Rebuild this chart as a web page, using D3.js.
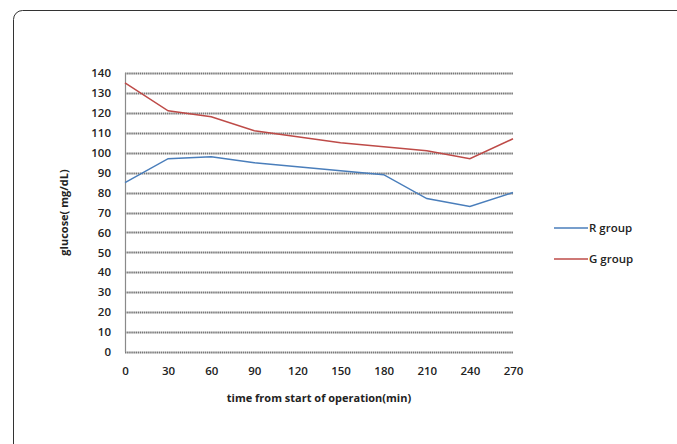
<!DOCTYPE html>
<html>
<head>
<meta charset="utf-8">
<script src="https://cdn.jsdelivr.net/npm/d3@7"></script>
<style>
  body { margin: 0; background: #fff; }
  svg { display: block; font-family: "Open Sans", "DejaVu Sans", sans-serif; }
</style>
</head>
<body>
<div id="chart"></div>
<script>
(function() {
  'use strict';
  var WIDTH = 677;
  var HEIGHT = 444;

  var times = [0, 30, 60, 90, 120, 150, 180, 210, 240, 270];
  var rGroup = [85, 97, 98, 95, 93, 91, 89, 77, 73, 80];
  var gGroup = [135, 121, 118, 111, 108, 105, 103, 101, 97, 107];
  var yTicks = [0, 10, 20, 30, 40, 50, 60, 70, 80, 90, 100, 110, 120, 130, 140];
  var seriesNames = ['R group', 'G group'];
  var seriesColors = ['#4a7ebb', '#be4b48'];

  var plot = {left: 125, right: 513, top: 73, bottom: 352};

  var svg = d3.select('#chart').append('svg')
    .attr('width', WIDTH)
    .attr('height', HEIGHT);

  // outer frame, cut off at right and bottom
  svg.append('rect')
    .attr('x', 13.5).attr('y', 10.5)
    .attr('width', 700).attr('height', 460)
    .attr('rx', 9)
    .attr('fill', 'none')
    .attr('stroke', '#333')
    .attr('stroke-width', 1);

  var x = d3.scalePoint().domain(times).range([plot.left, plot.right]);
  var y = d3.scaleLinear().domain([0, 140]).range([plot.bottom, plot.top]);

  // gridlines
  svg.append('g').selectAll('line')
    .data(yTicks)
    .enter().append('line')
    .attr('x1', plot.left).attr('x2', plot.right)
    .attr('y1', function(d) { return Math.round(y(d)) + 0.5; })
    .attr('y2', function(d) { return Math.round(y(d)) + 0.5; })
    .attr('stroke', '#777')
    .attr('stroke-width', 2)
    .attr('stroke-dasharray', '1.5,0.6');

  // y axis line
  svg.append('line')
    .attr('x1', plot.left + 0.5).attr('x2', plot.left + 0.5)
    .attr('y1', plot.top).attr('y2', plot.bottom)
    .attr('stroke', '#8a8a8a')
    .attr('stroke-width', 1.2);

  var yAxis = svg.append('g')
    .attr('transform', 'translate(' + (plot.left - 14) + ',0)')
    .call(d3.axisLeft(y).tickValues(yTicks).tickSize(0).tickPadding(0));
  yAxis.select('.domain').remove();
  yAxis.selectAll('text')
    .attr('font-size', 11.5)
    .attr('font-weight', 600)
    .attr('fill', '#222')
    .attr('font-family', '"Open Sans", sans-serif');

  var xAxis = svg.append('g')
    .attr('transform', 'translate(0,' + (plot.bottom + 15) + ')')
    .call(d3.axisBottom(x).tickSize(0).tickPadding(0));
  xAxis.select('.domain').remove();
  xAxis.selectAll('text')
    .attr('font-size', 11.5)
    .attr('font-weight', 600)
    .attr('fill', '#222')
    .attr('font-family', '"Open Sans", sans-serif');

  svg.append('text')
    .attr('x', (plot.left + plot.right) / 2)
    .attr('y', 402)
    .attr('text-anchor', 'middle')
    .attr('font-size', 11)
    .attr('font-weight', 'bold')
    .attr('fill', '#222')
    .text('time from start of operation(min)');

  svg.append('text')
    .attr('transform', 'translate(68,' + ((plot.top + plot.bottom) / 2) + ') rotate(-90)')
    .attr('text-anchor', 'middle')
    .attr('font-size', 11)
    .attr('font-weight', 'bold')
    .attr('fill', '#222')
    .text('glucose( mg/dL)');

  var line = d3.line()
    .x(function(d, i) { return x(times[i]); })
    .y(function(d) { return y(d); });

  [rGroup, gGroup].forEach(function(values, i) {
    svg.append('path')
      .datum(values)
      .attr('d', line)
      .attr('fill', 'none')
      .attr('stroke', seriesColors[i])
      .attr('stroke-width', 1.5);
  });

  var legend = svg.append('g').selectAll('g')
    .data(seriesNames)
    .enter().append('g')
    .attr('transform', function(d, i) { return 'translate(554,' + (228 + i * 31) + ')'; });
  legend.append('line')
    .attr('x1', 0).attr('x2', 34)
    .attr('stroke', function(d, i) { return seriesColors[i]; })
    .attr('stroke-width', 1.5);
  legend.append('text')
    .attr('x', 35)
    .attr('dy', '0.35em')
    .attr('font-size', 11.5)
    .attr('font-weight', 600)
    .attr('fill', '#222')
    .text(function(d) { return d; });
})();
</script>
</body>
</html>
